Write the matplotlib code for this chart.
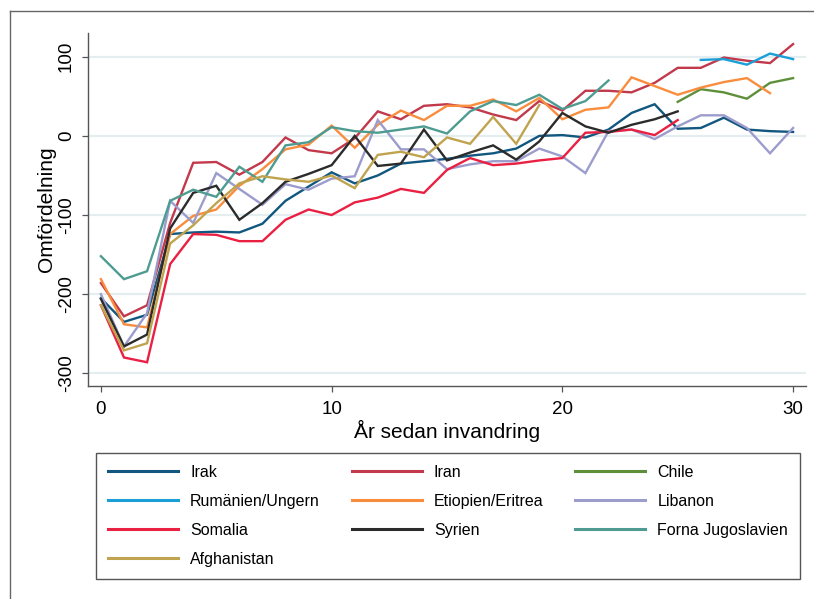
import numpy as np
import matplotlib
matplotlib.use("Agg")
import matplotlib.pyplot as plt
from matplotlib.lines import Line2D

plt.rcParams['font.family'] = ['Liberation Sans', 'DejaVu Sans']

# ---- data ----
irak = [-205, -235, -226, -124, -122, -121, -122, -111, -82, -64, -46, -60, -50, -35, -32, -29,
        -25, -22, -16, 0, 1, -2, 8, 29, 40, 9, 10, 23, 8, 6, 5]
iran = [-186, -228, -214, -110, -34, -33, -49, -33, -2, -18, -22, -3, 31, 21, 38, 40,
        36, 27, 20, 44, 32, 57, 57, 55, 67, 86, 86, 99, 95, 92, 116]
chile = [43, 59, 55, 47, 67, 73]
rumanien = [96, 97, 90, 104, 97]
etiopien = [-181, -238, -242, -124, -101, -93, -63, -42, -17, -11, 13, -15, 14, 32, 20, 38,
            38, 46, 31, 48, 21, 33, 36, 74, 63, 52, 61, 68, 73, 54]
libanon = [-200, -266, -224, -82, -110, -47, -67, -87, -61, -68, -54, -51, 20, -17, -17, -42,
           -36, -32, -32, -16, -26, -47, 6, 8, -4, 12, 26, 26, 10, -22, 10]
somalia = [-214, -280, -286, -162, -124, -125, -133, -133, -106, -93, -100, -84, -78, -67, -72, -43,
           -28, -37, -35, -31, -28, 4, 5, 8, 1, 20]
syrien = [-206, -266, -251, -117, -72, -63, -106, -85, -58, -48, -37, 0, -38, -35, 8, -31,
          -21, -12, -30, -7, 29, 12, 4, 14, 21, 31]
jugoslavien = [-152, -181, -171, -82, -68, -77, -39, -58, -12, -8, 11, 6, 4, 8, 12, 3,
               31, 44, 39, 52, 34, 44, 70]
afghanistan = [-214, -271, -262, -136, -113, -85, -60, -51, -55, -58, -50, -66, -24, -20, -27, -2,
               -10, 24, -10, 39]

names = ["Irak", "Iran", "Chile", "Rumänien/Ungern", "Etiopien/Eritrea", "Libanon",
         "Somalia", "Syrien", "Forna Jugoslavien", "Afghanistan"]
series = [irak, iran, chile, rumanien, etiopien, libanon, somalia, syrien, jugoslavien, afghanistan]
start_years = [0, 0, 25, 26, 0, 0, 0, 0, 0, 0]
colors = ["#11577f", "#c2394b", "#5e8f3b", "#1aa0d6", "#f98d3d", "#9c9ccd",
          "#ea2043", "#2b2b2b", "#4e9c91", "#c0a34e"]

xticks = [0, 10, 20, 30]
yticks = [-300, -200, -100, 0, 100]

W, H = 814, 599
fig = plt.figure(figsize=(W / 100, H / 100), dpi=100)
ax = fig.add_axes([88 / W, 1 - 386 / H, (806 - 88) / W, (386 - 33) / H])

handles = {}
for name, vals, s0, c in zip(names, series, start_years, colors):
    x = np.arange(s0, s0 + len(vals))
    ln, = ax.plot(x, vals, color=c, lw=1.7, solid_joinstyle='miter')
    handles[name] = ln

ax.set_xlim(-0.56, 30.56)
ax.set_ylim(-316, 130)
ax.set_xticks(xticks)
ax.set_yticks(yticks)
ax.set_yticklabels([str(v) for v in yticks], rotation=90, va='center')
ax.grid(axis='y', color='#e4eef0', lw=1.6)
ax.set_axisbelow(True)
for s in ['top', 'right']:
    ax.spines[s].set_visible(False)
for s in ['left', 'bottom']:
    ax.spines[s].set_color('#555555')
    ax.spines[s].set_linewidth(1.0)
ax.tick_params(axis='both', direction='out', length=4.5, width=0.9, color='#555555',
               labelsize=13.5, labelcolor='black')
ax.tick_params(axis='y', pad=5)
ax.tick_params(axis='x', pad=6)

ax.set_xlabel("År sedan invandring", fontsize=15, labelpad=2)
ax.set_ylabel("Omfördelning", fontsize=15, labelpad=1)

order = ["Irak", "Rumänien/Ungern", "Somalia", "Afghanistan", "Iran", "Etiopien/Eritrea",
         "Syrien", "Chile", "Libanon", "Forna Jugoslavien"]
leg = fig.legend([handles[n] for n in order], order, ncol=3, loc='upper left',
                 bbox_to_anchor=(96 / W, 1 - 578 / H, 704 / W, 125 / H), mode='expand',
                 fontsize=11.5, handlelength=4.4, handletextpad=0.75, labelspacing=0.87,
                 borderpad=0.75, borderaxespad=0, fancybox=False, framealpha=1,
                 edgecolor='#555555')
leg.get_frame().set_linewidth(1.0)
for l in leg.get_lines():
    l.set_linewidth(2.2)

# outer graph-region frame
fig.add_artist(Line2D([10 / W, 10 / W], [0, 1 - 11 / H], transform=fig.transFigure,
                      color='#666666', lw=1.0))
fig.add_artist(Line2D([10 / W, 1], [1 - 11 / H, 1 - 11 / H], transform=fig.transFigure,
                      color='#666666', lw=1.0))

fig.savefig("out.png", dpi=100)
